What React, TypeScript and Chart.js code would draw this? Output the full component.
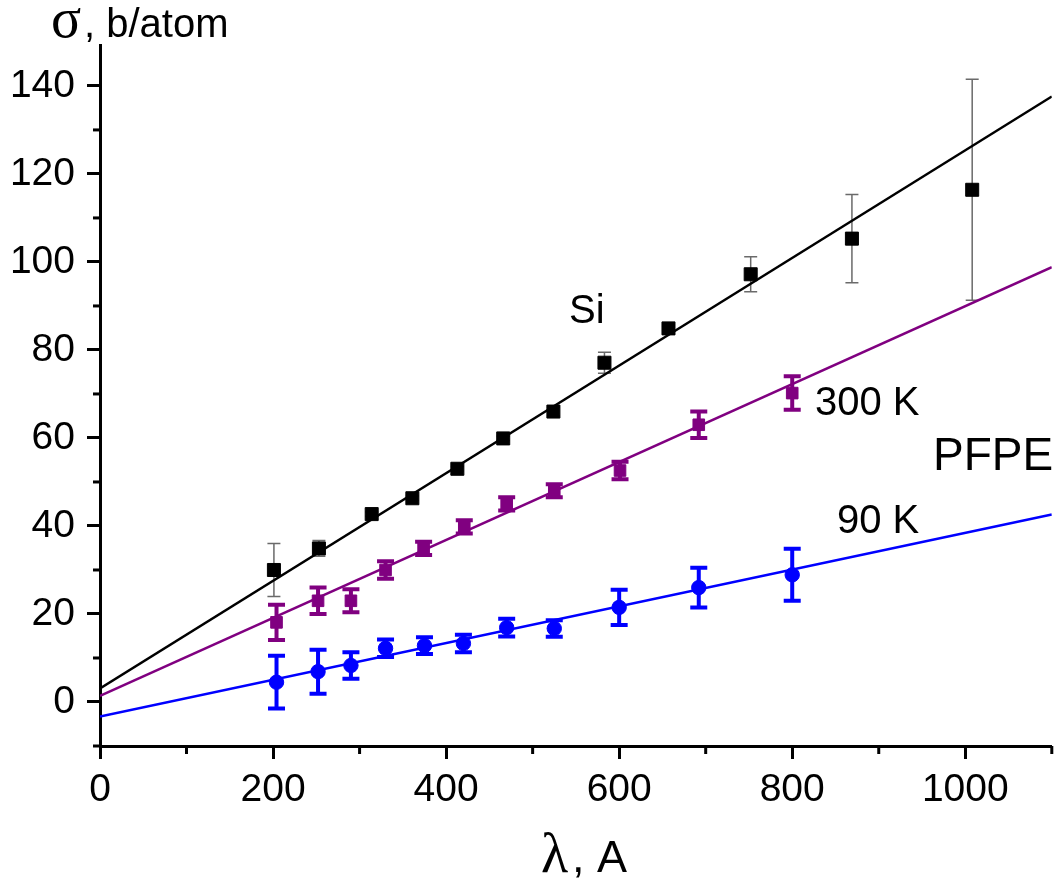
import React, { useEffect, useRef } from 'react';
import { Chart, registerables } from 'chart.js';

Chart.register(...registerables);

// ---- Data ----
const siLambda = [201, 253, 314, 361, 413, 466, 524, 583, 657, 752, 869, 1008];
const siSigma = [30, 34.9, 42.7, 46.3, 53.0, 59.9, 66.0, 77.1, 84.9, 97.2, 105.3, 116.4];
const siErr = [6, 1.8, 0.5, 0.5, 0.5, 0.5, 1.0, 2.4, 0.5, 4, 10, 25.1];

const pfpe300Lambda = [204, 252, 290, 330, 374, 421, 470, 525, 601, 692, 800];
const pfpe300Sigma = [18.1, 23, 23, 30, 34.9, 39.8, 45, 48, 52.6, 63, 70.2];
const pfpe300Err = [4, 3, 2.6, 2, 1.5, 1.5, 1.5, 1.5, 2, 3, 3.8];

const pfpe90Lambda = [204, 252, 290, 330, 375, 420, 470, 525, 600, 692, 800];
const pfpe90Sigma = [4.5, 6.9, 8.3, 12.2, 12.8, 13.3, 16.9, 16.7, 21.5, 26, 28.9];
const pfpe90Err = [6, 5, 3, 2, 1.9, 2, 2, 1.9, 4, 4.5, 5.9];

const fitLambda = [0, 1100];
const siFit = [3.1, 137.6];
const pfpe300Fit = [1.4, 98.8];
const pfpe90Fit = [-3.3, 42.6];

const xTickLabels = [0, 200, 400, 600, 800, 1000];
const yTickLabels = [0, 20, 40, 60, 80, 100, 120, 140];

const BLACK = '#000000';
const PURPLE = '#800080';
const BLUE = '#0000ff';
const SANS = '"Liberation Sans", Arial, sans-serif';
const SERIF = '"Liberation Serif", "Times New Roman", serif';

export default function App() {
  const ref = useRef<HTMLCanvasElement>(null);

  useEffect(() => {
    document.body.style.margin = '0';
    document.body.style.overflow = 'hidden';
    const canvas = ref.current!;
    const toPts = (xs: number[], ys: number[]) => xs.map((x, i) => ({ x, y: ys[i] }));

    const errorSets = [
      { xs: siLambda, ys: siSigma, errs: siErr, color: '#6a6a6a', width: 1.5, cap: 6.5 },
      { xs: pfpe300Lambda, ys: pfpe300Sigma, errs: pfpe300Err, color: PURPLE, width: 4, cap: 8.5 },
      { xs: pfpe90Lambda, ys: pfpe90Sigma, errs: pfpe90Err, color: BLUE, width: 4, cap: 8.5 },
    ];

    const deco = {
      id: 'deco',
      beforeDatasetsDraw(chart: any) {
        const ctx = chart.ctx;
        const xs = chart.scales.x;
        const ys = chart.scales.y;
        ctx.save();
        ctx.lineCap = 'butt';
        for (const s of errorSets) {
          ctx.strokeStyle = s.color;
          ctx.lineWidth = s.width;
          s.xs.forEach((xv, i) => {
            const px = xs.getPixelForValue(xv);
            const top = ys.getPixelForValue(s.ys[i] + s.errs[i]);
            const bot = ys.getPixelForValue(s.ys[i] - s.errs[i]);
            ctx.beginPath();
            ctx.moveTo(px, top);
            ctx.lineTo(px, bot);
            ctx.moveTo(px - s.cap, top);
            ctx.lineTo(px + s.cap, top);
            ctx.moveTo(px - s.cap, bot);
            ctx.lineTo(px + s.cap, bot);
            ctx.stroke();
          });
        }
        ctx.restore();
      },
      afterDraw(chart: any) {
        const ctx = chart.ctx;
        const xs = chart.scales.x;
        const ys = chart.scales.y;
        const area = chart.chartArea;
        ctx.save();
        // minor ticks
        ctx.strokeStyle = BLACK;
        ctx.lineWidth = 3;
        ctx.lineCap = 'butt';
        for (const t of ys.ticks) {
          if (t.value % 20 !== 0) {
            const py = ys.getPixelForValue(t.value);
            ctx.beginPath();
            ctx.moveTo(area.left - 7, py);
            ctx.lineTo(area.left, py);
            ctx.stroke();
          }
        }
        for (const t of xs.ticks) {
          if (t.value % 200 !== 0) {
            const px = xs.getPixelForValue(t.value);
            ctx.beginPath();
            ctx.moveTo(px, area.bottom);
            ctx.lineTo(px, area.bottom + 8);
            ctx.stroke();
          }
        }
        // axis titles
        ctx.fillStyle = BLACK;
        ctx.textBaseline = 'alphabetic';
        ctx.textAlign = 'left';
        ctx.font = `56px ${SERIF}`;
        ctx.fillText('σ', 51, 37);
        ctx.font = `40px ${SANS}`;
        ctx.fillText(', b/atom', 84, 37);
        ctx.font = `56px ${SERIF}`;
        ctx.fillText('λ', 541, 872);
        ctx.font = `45px ${SANS}`;
        ctx.fillText(', A', 572, 872);
        // annotations
        ctx.font = `40px ${SANS}`;
        ctx.fillText('Si', 569, 323);
        ctx.fillText('300 K', 815, 415);
        ctx.fillText('90 K', 837, 533);
        ctx.font = `46px ${SANS}`;
        ctx.fillText('PFPE', 933, 470);
        ctx.restore();
      },
    };

    const chart = new Chart(canvas, {
      type: 'scatter',
      data: {
        datasets: [
          {
            label: 'Si',
            data: toPts(siLambda, siSigma),
            pointStyle: 'rect',
            pointRadius: 9.2,
            pointBorderWidth: 1,
            backgroundColor: BLACK,
            borderColor: BLACK,
            showLine: false,
          },
          {
            label: 'PFPE 300 K',
            data: toPts(pfpe300Lambda, pfpe300Sigma),
            pointStyle: 'rect',
            pointRadius: 8.2,
            pointBorderWidth: 1,
            backgroundColor: PURPLE,
            borderColor: PURPLE,
            showLine: false,
          },
          {
            label: 'PFPE 90 K',
            data: toPts(pfpe90Lambda, pfpe90Sigma),
            pointStyle: 'circle',
            pointRadius: 7.2,
            pointBorderWidth: 1,
            backgroundColor: BLUE,
            borderColor: BLUE,
            showLine: false,
          },
          {
            label: 'Si fit',
            data: toPts(fitLambda, siFit),
            showLine: true,
            pointRadius: 0,
            borderColor: BLACK,
            borderWidth: 2.5,
          },
          {
            label: '300 K fit',
            data: toPts(fitLambda, pfpe300Fit),
            showLine: true,
            pointRadius: 0,
            borderColor: PURPLE,
            borderWidth: 2.5,
          },
          {
            label: '90 K fit',
            data: toPts(fitLambda, pfpe90Fit),
            showLine: true,
            pointRadius: 0,
            borderColor: BLUE,
            borderWidth: 2.5,
          },
        ],
      },
      options: {
        animation: false,
        responsive: false,
        devicePixelRatio: 1,
        layout: { padding: { left: 0, top: 45, right: 5, bottom: 0 } },
        plugins: {
          legend: { display: false },
          tooltip: { enabled: false },
          title: { display: false },
        },
        scales: {
          x: {
            type: 'linear',
            min: 0,
            max: 1100,
            afterFit: (s: any) => { s.height = 137; },
            border: { display: true, color: BLACK, width: 3 },
            grid: {
              display: true,
              drawOnChartArea: false,
              drawTicks: true,
              tickLength: 13,
              tickWidth: 3,
              tickColor: (c: any) => (xTickLabels.includes(c.tick?.value) ? BLACK : 'rgba(0,0,0,0)'),
            },
            ticks: {
              stepSize: 100,
              includeBounds: false,
              padding: 8,
              color: BLACK,
              font: { family: SANS, size: 39 },
              maxRotation: 0,
              autoSkip: false,
              callback: (v: any) => (xTickLabels.includes(Number(v)) ? String(v) : ''),
            },
          },
          y: {
            type: 'linear',
            min: -10,
            max: 149.3,
            afterFit: (s: any) => { s.width = 100; },
            border: { display: true, color: BLACK, width: 3 },
            grid: {
              display: true,
              drawOnChartArea: false,
              drawTicks: true,
              tickLength: 13,
              tickWidth: 3,
              tickColor: (c: any) => (yTickLabels.includes(c.tick?.value) ? BLACK : 'rgba(0,0,0,0)'),
            },
            ticks: {
              stepSize: 10,
              includeBounds: false,
              padding: 12,
              color: BLACK,
              font: { family: SANS, size: 39 },
              autoSkip: false,
              callback: (v: any) => (yTickLabels.includes(Number(v)) ? String(v) : ''),
            },
          },
        },
      },
      plugins: [deco],
    } as any);

    return () => chart.destroy();
  }, []);

  return (
    <div style={{ width: 1062, height: 883 }}>
      <canvas ref={ref} width={1062} height={883} />
    </div>
  );
}
